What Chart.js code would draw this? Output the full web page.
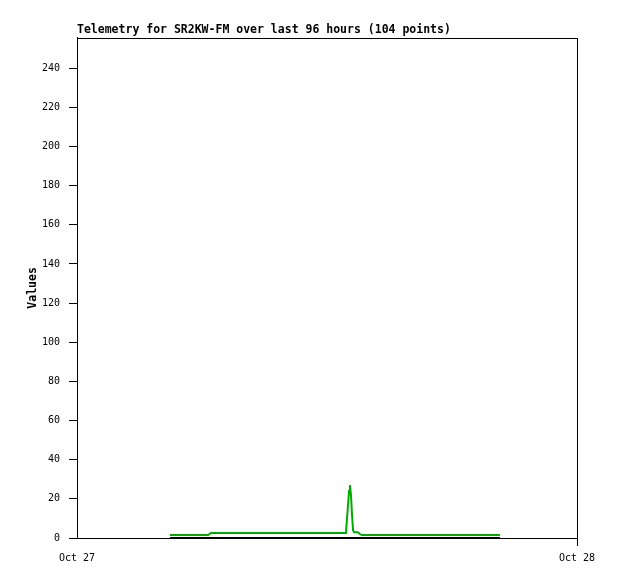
<!DOCTYPE html>
<html>
<head>
<meta charset="utf-8">
<script src="https://cdn.jsdelivr.net/npm/chart.js@4/dist/chart.umd.min.js"></script>
<style>
  html, body { margin: 0; padding: 0; background: #fff; }
  canvas { display: block; }
</style>
</head>
<body>
<canvas id="telemetry" width="618" height="579"></canvas>
<script>
// start: Data
const chartTitle = 'Telemetry for SR2KW-FM over last 96 hours (104 points)'
const yTitle = 'Values'
// hours since Oct 27 00:00
const greenHours = [4.46, 5.42, 6.29, 6.43, 7.34, 8.78, 10.22, 11.66, 12.62, 12.91, 13.01, 13.06, 13.10, 13.15, 13.20, 13.25, 13.30, 13.39, 13.49, 13.58, 13.68, 14.54, 15.98, 17.42, 18.86, 20.30]
const greenValues = [1.5, 1.5, 1.5, 2.6, 2.6, 2.6, 2.6, 2.6, 2.6, 2.6, 17, 24, 27, 22, 12, 4, 3, 3, 3, 2, 1.5, 1.5, 1.5, 1.5, 1.5, 1.5]
const blackHours = [4.46, 8.78, 12.62, 16.0, 20.30]
const blackValues = [0, 0, 0, 0, 0]
const xTickValues = [0, 24]
const xTickLabels = ['Oct 27', 'Oct 28']
const yMax = 255.5
const yStep = 20
// end: Data

function toPoints(xs, ys) {
    return xs.map(function (x, i) { return { x: x, y: ys[i] } })
}

const mono = 'DejaVu Sans Mono'

// draws the box around the plot area
const frame = {
    id: 'frame',
    afterDraw: function (chart) {
        const a = chart.chartArea
        const ctx = chart.ctx
        ctx.save()
        ctx.strokeStyle = '#000'
        ctx.lineWidth = 1
        ctx.strokeRect(Math.round(a.left) + 0.5, Math.round(a.top) + 0.5, Math.round(a.right - a.left), Math.round(a.bottom - a.top))
        ctx.restore()
    }
}

new Chart(document.getElementById('telemetry'), {
    type: 'line',
    data: {
        datasets: [
            {
                label: 'zero',
                data: toPoints(blackHours, blackValues),
                borderColor: '#000',
                borderWidth: 2,
                pointRadius: 0,
                tension: 0
            },
            {
                label: 'value',
                data: toPoints(greenHours, greenValues),
                borderColor: '#00aa00',
                borderWidth: 2,
                pointRadius: 0,
                tension: 0
            }
        ]
    },
    options: {
        responsive: false,
        devicePixelRatio: 1,
        animation: false,
        layout: { padding: { left: 0, right: 41, top: 0, bottom: 0 } },
        plugins: {
            legend: { display: false },
            tooltip: { enabled: false },
            title: {
                display: true,
                text: chartTitle,
                align: 'start',
                fullSize: false,
                color: '#000',
                font: { family: mono, size: 11.5, weight: 'bold' },
                padding: { top: 23, bottom: 1 }
            }
        },
        scales: {
            x: {
                type: 'linear',
                min: 0,
                max: 24,
                afterBuildTicks: function (scale) {
                    scale.ticks = xTickValues.map(function (v) { return { value: v } })
                },
                afterFit: function (scale) { scale.height = 41 },
                ticks: {
                    color: '#000',
                    font: { family: mono, size: 10 },
                    padding: 6,
                    maxRotation: 0,
                    autoSkip: false,
                    callback: function (v, i) { return xTickLabels[i] }
                },
                grid: {
                    drawOnChartArea: false,
                    tickLength: 8,
                    tickColor: function (c) { return c.index === 0 ? 'rgba(0,0,0,0)' : '#000' }
                },
                border: { color: '#000' }
            },
            y: {
                min: 0,
                max: yMax,
                afterFit: function (scale) { scale.width = 77 },
                ticks: {
                    stepSize: yStep,
                    includeBounds: false,
                    color: '#000',
                    font: { family: mono, size: 10 },
                    padding: 9
                },
                grid: {
                    drawOnChartArea: false,
                    tickLength: 8,
                    tickColor: '#000'
                },
                border: { color: '#000' },
                title: {
                    display: true,
                    text: yTitle,
                    color: '#000',
                    font: { family: mono, size: 11.5, weight: 'bold' },
                    padding: { top: 26, bottom: 0 }
                }
            }
        }
    },
    plugins: [frame]
})
</script>
</body>
</html>
